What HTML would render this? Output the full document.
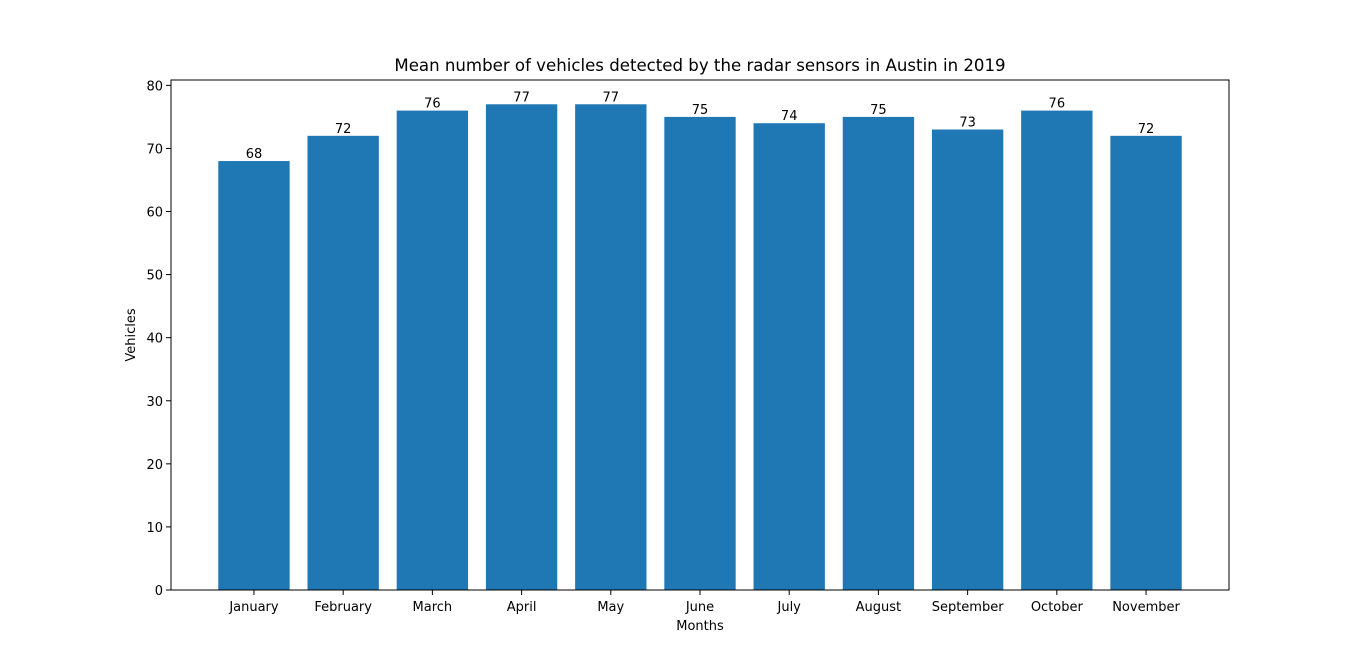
<!DOCTYPE html>
<html><head><meta charset="utf-8"><style>body{margin:0;background:#fff}svg{display:block;font-family:"DejaVu Sans","Liberation Sans",sans-serif}</style></head>
<body>
<svg id="chart" width="1366" height="663"></svg>
<script>
const categories=["January","February","March","April","May","June","July","August","September","October","November"];
const values=[68,72,76,77,77,75,74,75,73,76,72];
const yTicks=[0,10,20,30,40,50,60,70,80];
const L=171,R=1229,T=80,B=590,yMax=80.85,xMin=-0.93,xMax=10.93;
const x=v=>L+(v-xMin)/(xMax-xMin)*(R-L);
const y=v=>B-v/yMax*(B-T);
const svg=document.getElementById('chart');
const NS="http://www.w3.org/2000/svg";
function mk(t,a,txt){const e=document.createElementNS(NS,t);for(const k in a)e.setAttribute(k,a[k]);if(txt!==undefined)e.textContent=txt;svg.appendChild(e);return e;}
values.forEach((v,i)=>{
 const r=mk('rect',{x:x(i-0.4),y:y(v),width:x(0.4)-x(-0.4),height:B-y(v),fill:'#1f77b4'});
 
 
 const t=mk('text',{x:x(i),y:y(v)-3,'text-anchor':'middle','font-size':13,fill:'#000'},String(v));
 
 
 mk('line',{x1:x(i),x2:x(i),y1:B,y2:B+5,stroke:'#000','stroke-width':1});
 const c=mk('text',{x:x(i),y:B+21,'text-anchor':'middle','font-size':13,fill:'#000'},categories[i]);
 
 
});
yTicks.forEach(v=>{
 mk('line',{x1:L-5,x2:L,y1:y(v),y2:y(v),stroke:'#000','stroke-width':1});
 const t=mk('text',{x:L-8,y:y(v)+5,'text-anchor':'end','font-size':13,fill:'#000'},String(v));
 
 
});
const f=mk('rect',{x:L,y:T,width:R-L,height:B-T,fill:'none',stroke:'#000','stroke-width':1});


const ti=mk('text',{x:(L+R)/2,y:71,'text-anchor':'middle','font-size':16.6,fill:'#000'},"Mean number of vehicles detected by the radar sensors in Austin in 2019");


const xt=mk('text',{x:(L+R)/2,y:630,'text-anchor':'middle','font-size':13,fill:'#000'},"Months");


const yt=mk('text',{x:135,y:(T+B)/2,'text-anchor':'middle','font-size':13,fill:'#000',transform:'rotate(-90 135 '+((T+B)/2)+')'},"Vehicles");


</script>
</body></html>
